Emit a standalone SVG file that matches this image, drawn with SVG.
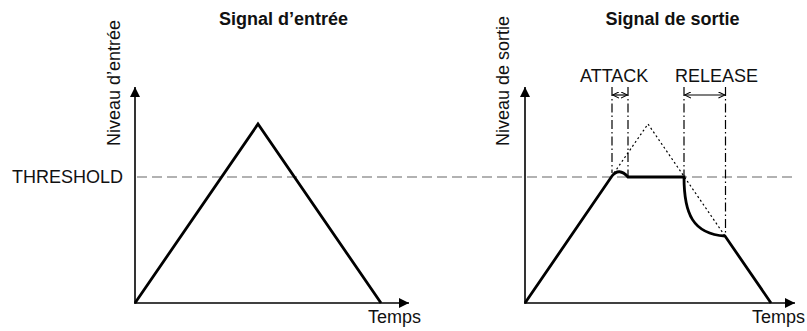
<svg xmlns="http://www.w3.org/2000/svg" width="807" height="331" viewBox="0 0 807 331">
<style>
text{font-family:"Liberation Sans",Arial,Helvetica,sans-serif;fill:#111;font-size:18px}
.title{font-weight:bold;text-anchor:middle}
.axis{stroke:#000;stroke-width:1.6;fill:none}
.sig{stroke:#000;stroke-width:2.8;fill:none;stroke-linejoin:miter}
.thr{stroke:#999;stroke-width:1.4;stroke-dasharray:10 5;fill:none}
.dd{stroke:#000;stroke-width:1.2;stroke-dasharray:9 3 1.5 3;fill:none}
.dot{stroke:#000;stroke-width:1.2;stroke-dasharray:2 2.6;fill:none}
.dim{stroke:#000;stroke-width:1.2;fill:none}
</style>
<defs>
<marker id="ah" viewBox="0 0 10 10" refX="10" refY="5" markerWidth="10" markerHeight="10" markerUnits="userSpaceOnUse" orient="auto">
<path d="M0,0 L10,5 L0,10 Z" fill="#000"/>
</marker>
<marker id="oh" viewBox="0 0 8 8" refX="7.5" refY="4" markerWidth="7" markerHeight="7" markerUnits="userSpaceOnUse" orient="auto-start-reverse">
<path d="M0,0.5 L7.5,4 L0,7.5" fill="none" stroke="#000" stroke-width="1.2"/>
</marker>
</defs>

<g id="threshold">
<line class="thr" x1="137" y1="177" x2="792" y2="177"/>
<text x="12" y="183">THRESHOLD</text>
</g>

<g id="input-plot">
<text class="title" x="283.5" y="25">Signal d’entrée</text>
<text transform="translate(120,83) rotate(-90)" text-anchor="middle">Niveau d’entrée</text>
<line class="axis" x1="135" y1="303.8" x2="135" y2="87" marker-end="url(#ah)"/>
<line class="axis" x1="134.2" y1="303" x2="409" y2="303" marker-end="url(#ah)"/>
<text x="368" y="323">Temps</text>
<polyline class="sig" points="135,303 258,124 381,303"/>
</g>

<g id="output-plot">
<text class="title" x="672.5" y="25">Signal de sortie</text>
<text transform="translate(509,81) rotate(-90)" text-anchor="middle">Niveau de sortie</text>
<line class="axis" x1="525" y1="303.8" x2="525" y2="87" marker-end="url(#ah)"/>
<line class="axis" x1="524.2" y1="303" x2="795" y2="303" marker-end="url(#ah)"/>
<text x="752" y="323">Temps</text>
<polyline class="dot" points="614,173 648,124 725,236"/>
<path class="sig" d="M525,303 L612,176 Q619,167 628,177 L684,177 C684,214 693,234 725,236 L771,303"/>
</g>

<g id="connectors">
<line class="dd" x1="612" y1="87" x2="612" y2="173"/>
<line class="dd" x1="628" y1="87" x2="628" y2="176"/>
<line class="dd" x1="684" y1="87" x2="684" y2="177"/>
<line class="dd" x1="725.5" y1="87" x2="725.5" y2="234"/>
<line class="dim" x1="612.5" y1="95" x2="627.5" y2="95" marker-start="url(#oh)" marker-end="url(#oh)"/>
<line class="dim" x1="684.5" y1="95" x2="725" y2="95" marker-start="url(#oh)" marker-end="url(#oh)"/>
</g>

<g id="labels">
<text x="580" y="82">ATTACK</text>
<text x="675" y="82">RELEASE</text>
</g>
</svg>
